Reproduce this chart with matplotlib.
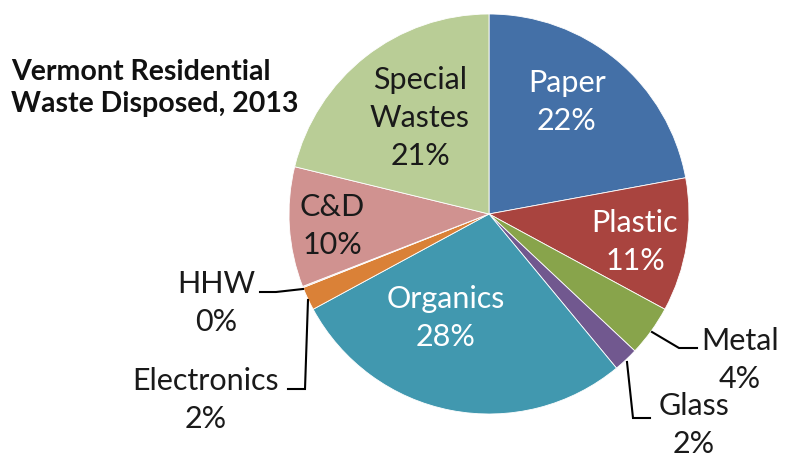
import matplotlib
matplotlib.use("Agg")
import matplotlib.pyplot as plt

# Vermont residential waste disposed, 2013 (share of total, %)
categories = ["Paper", "Plastic", "Metal", "Glass", "Organics",
              "Electronics", "HHW", "C&D", "Special\nWastes"]
shares = [22.1, 10.8, 4.1, 2.0, 28.1, 1.9, 0.1, 9.7, 21.2]
colors = ["#4470a7", "#a9443f", "#88a44b", "#71588f", "#4198af",
          "#da8137", "#e8d0cf", "#d09290", "#b9cd96"]

# label placement (figure pixels, y measured from the top)
label_pos = {
    "Paper": (567, 102), "Plastic": (635, 242), "Metal": (740, 360),
    "Glass": (694, 425), "Organics": (446, 318), "Electronics": (206, 400),
    "HHW": (216, 303), "C&D": (332, 226), "Special\nWastes": (420, 118),
}
white_labels = {"Paper", "Plastic", "Organics"}

# leader lines for the small slices drawn outside
leaders = {
    "HHW": [(260, 292), (276, 292), (303, 289)],
    "Electronics": [(288, 389), (305, 389), (308, 300)],
    "Metal": [(652, 332), (679, 348), (697, 348)],
    "Glass": [(627, 362), (633, 418), (650, 418)],
}

W, H = 794, 461
fig = plt.figure(figsize=(W / 100, H / 100), dpi=100)
ax = fig.add_axes([0, 0, 1, 1])

ax.pie(shares, colors=colors, startangle=90, counterclock=False,
       center=(489, H - 214), radius=200, frame=True,
       wedgeprops=dict(edgecolor="white", linewidth=0.6))
ax.set_xlim(0, W)
ax.set_ylim(0, H)
ax.set_aspect("equal")
ax.axis("off")

font = "Lato"
for name, val in zip(categories, shares):
    x, y = label_pos[name]
    col = "white" if name in white_labels else "#1a1a1a"
    ax.text(x, H - y, f"{name}\n{val:.0f}%", ha="center", va="center",
            fontsize=22, color=col, family=font, linespacing=1.45)

for name, pts in leaders.items():
    xs = [p[0] for p in pts]
    ys = [H - p[1] for p in pts]
    ax.plot(xs, ys, color="black", lw=1.5, solid_joinstyle="miter")

ax.text(11, H - 88, "Vermont Residential\nWaste Disposed, 2013", ha="left",
        va="center", fontsize=20.5, fontweight="bold", family=font,
        color="#111111", linespacing=1.3)

fig.savefig("out.png", dpi=100, facecolor="white")
